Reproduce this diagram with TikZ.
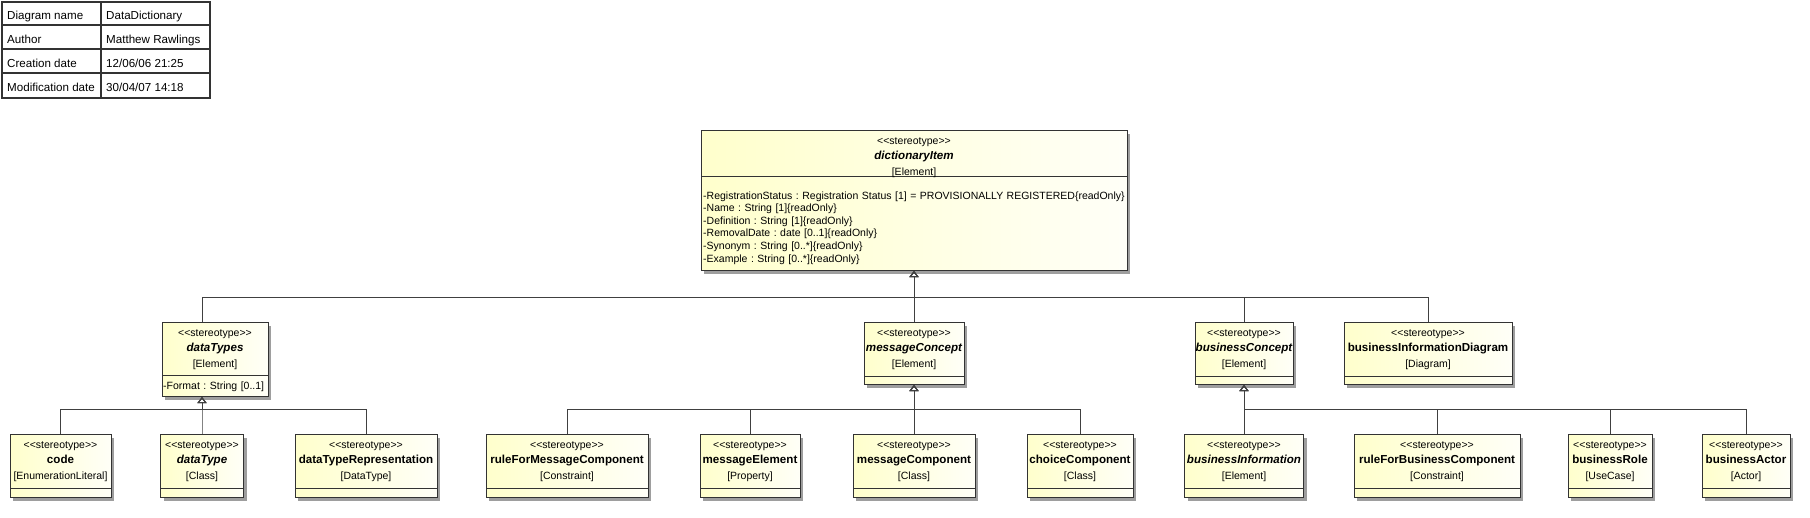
\documentclass[tikz,border=0pt]{standalone}
\usepackage{fontspec}
\newfontfamily\umlfont{Liberation Sans}
\usepackage{tikz}
\usetikzlibrary{arrows.meta, positioning, shadows}
\frenchspacing

\definecolor{clsyellow}{RGB}{255,255,204}
\definecolor{clsline}{RGB}{51,51,51}
\definecolor{conline}{RGB}{64,64,64}

\newcommand{\clsname}[1]{\mbox{\fontsize{11.6}{15.5}\selectfont\bfseries #1}}
\newcommand{\absname}[1]{\mbox{\fontsize{11.6}{15.5}\selectfont\bfseries\itshape #1}}
\newcommand{\stereo}{<<stereotype>>}

\begin{document}
\begin{tikzpicture}
	[x=1pt, y=-1pt,
	 cls/.style={draw=clsline, line width=1pt, left color=clsyellow, right color=clsyellow!15!white,
	    drop shadow={shadow xshift=3pt, shadow yshift=-3pt, fill=black!38, opacity=1},
	    rectangle, inner sep=0pt, anchor=north, align=center, text height=13.5pt,
	    font=\umlfont\fontsize{10.5}{15.5}\selectfont},
	 compart/.style={path picture={\draw[clsline, line width=1pt]
	    ([yshift=#1]path picture bounding box.south west) -- ([yshift=#1]path picture bounding box.south east);}},
	 lvltwo/.style={cls, text depth=48.5pt, compart=8pt},
	 leaf/.style={cls, text depth=49.5pt, compart=9pt},
	 attr/.style={anchor=base west, inner sep=0pt, align=left, text width=440pt,
	    font=\umlfont\fontsize{10.5}{12.6}\selectfont},
	 gen/.style={draw=conline, line width=1pt, -{Triangle[open, length=6pt, width=9pt]}},
	 cell/.style={anchor=base west, inner sep=0pt, font=\umlfont\fontsize{11.6}{13}\selectfont},
	 tblframe/.style={draw=black!80, line width=2pt},
	 tblrule/.style={draw=black!80, line width=1.5pt}]
   \useasboundingbox (0,0) rectangle (1810,517);

   % diagram info table
   \draw[tblframe] (2,2) rectangle (210,97.5);
   \draw[tblrule] (2,25) -- (210,25) (2,49) -- (210,49) (2,73) -- (210,73) (101,2) -- (101,97.5);
   \node[cell] (nameKey) at (7,19) {Diagram name};
   \node[cell] (nameVal) at (106,19) {DataDictionary};
   \node[cell] (authorKey) at (7,43) {Author};
   \node[cell] (authorVal) at (106,43) {Matthew Rawlings};
   \node[cell] (createdKey) at (7,67) {Creation date};
   \node[cell] (createdVal) at (106,67) {12/06/06 21:25};
   \node[cell] (modifiedKey) at (7,91) {Modification date};
   \node[cell] (modifiedVal) at (106,91) {30/04/07 14:18};

   % root
   \node[cls, text width=426pt, text depth=126.5pt, compart=94pt] (dictItem) at (914,130)
      {\stereo\\\absname{dictionaryItem}\\{[Element]}};
   \node[attr] (dictAttrs) at (703,199)
      {-RegistrationStatus : Registration Status [1] = PROVISIONALLY REGISTERED\{readOnly\}\\
       -Name : String [1]\{readOnly\}\\
       -Definition : String [1]\{readOnly\}\\
       -RemovalDate : date [0..1]\{readOnly\}\\
       -Synonym : String [0..*]\{readOnly\}\\
       -Example : String [0..*]\{readOnly\}};

   % second level
   \node[cls, text width=106pt, text depth=60.5pt, compart=21pt] (dataTypes) at (215,322)
      {\stereo\\\absname{dataTypes}\\{[Element]}};
   \node[attr] (dataTypesAttrs) at (163,389.5) {-Format : String [0..1]};
   \node[lvltwo, text width=100pt] (messageConcept) at (914,322)
      {\stereo\\\absname{messageConcept}\\{[Element]}};
   \node[lvltwo, text width=98pt] (businessConcept) at (1244,322)
      {\stereo\\\absname{businessConcept}\\{[Element]}};
   \node[lvltwo, text width=168pt] (businessInfoDiagram) at (1428,322)
      {\stereo\\\clsname{businessInformationDiagram}\\{[Diagram]}};

   % third level
   \node[leaf, text width=101pt] (code) at (60.5,434)
      {\stereo\\\clsname{code}\\{[EnumerationLiteral]}};
   \node[leaf, text width=83pt] (dataType) at (202,434)
      {\stereo\\\absname{dataType}\\{[Class]}};
   \node[leaf, text width=142pt] (dataTypeRep) at (366,434)
      {\stereo\\\clsname{dataTypeRepresentation}\\{[DataType]}};
   \node[leaf, text width=162pt] (ruleMsgComp) at (567,434)
      {\stereo\\\clsname{ruleForMessageComponent}\\{[Constraint]}};
   \node[leaf, text width=100pt] (messageElement) at (750,434)
      {\stereo\\\clsname{messageElement}\\{[Property]}};
   \node[leaf, text width=122pt] (messageComponent) at (914,434)
      {\stereo\\\clsname{messageComponent}\\{[Class]}};
   \node[leaf, text width=106pt] (choiceComponent) at (1080,434)
      {\stereo\\\clsname{choiceComponent}\\{[Class]}};
   \node[leaf, text width=119pt] (businessInformation) at (1244,434)
      {\stereo\\\absname{businessInformation}\\{[Element]}};
   \node[leaf, text width=166pt] (ruleBizComp) at (1437,434)
      {\stereo\\\clsname{ruleForBusinessComponent}\\{[Constraint]}};
   \node[leaf, text width=84pt] (businessRole) at (1610,434)
      {\stereo\\\clsname{businessRole}\\{[UseCase]}};
   \node[leaf, text width=88pt] (businessActor) at (1746,434)
      {\stereo\\\clsname{businessActor}\\{[Actor]}};

   % generalizations
   \coordinate (topBus) at (914,297);
   \coordinate (dtBus) at (202,409);
   \coordinate (mcBus) at (914,409);
   \coordinate (bcBus) at (1244,409);
   \draw[gen] ([xshift=-13pt]dataTypes.north) |- (topBus) -- (dictItem.south);
   \draw[gen] (messageConcept.north) |- (topBus) -- (dictItem.south);
   \draw[gen] (businessConcept.north) |- (topBus) -- (dictItem.south);
   \draw[gen] (businessInfoDiagram.north) |- (topBus) -- (dictItem.south);

   \draw[gen] (code.north) |- (dtBus) -- ([xshift=-13pt]dataTypes.south);
   \draw[gen] (dataType.north) |- (dtBus) -- ([xshift=-13pt]dataTypes.south);
   \draw[gen] (dataTypeRep.north) |- (dtBus) -- ([xshift=-13pt]dataTypes.south);

   \draw[gen] (ruleMsgComp.north) |- (mcBus) -- (messageConcept.south);
   \draw[gen] (messageElement.north) |- (mcBus) -- (messageConcept.south);
   \draw[gen] (messageComponent.north) |- (mcBus) -- (messageConcept.south);
   \draw[gen] (choiceComponent.north) |- (mcBus) -- (messageConcept.south);

   \draw[gen] (businessInformation.north) |- (bcBus) -- (businessConcept.south);
   \draw[gen] (ruleBizComp.north) |- (bcBus) -- (businessConcept.south);
   \draw[gen] (businessRole.north) |- (bcBus) -- (businessConcept.south);
   \draw[gen] (businessActor.north) |- (bcBus) -- (businessConcept.south);

\end{tikzpicture}
\end{document}
